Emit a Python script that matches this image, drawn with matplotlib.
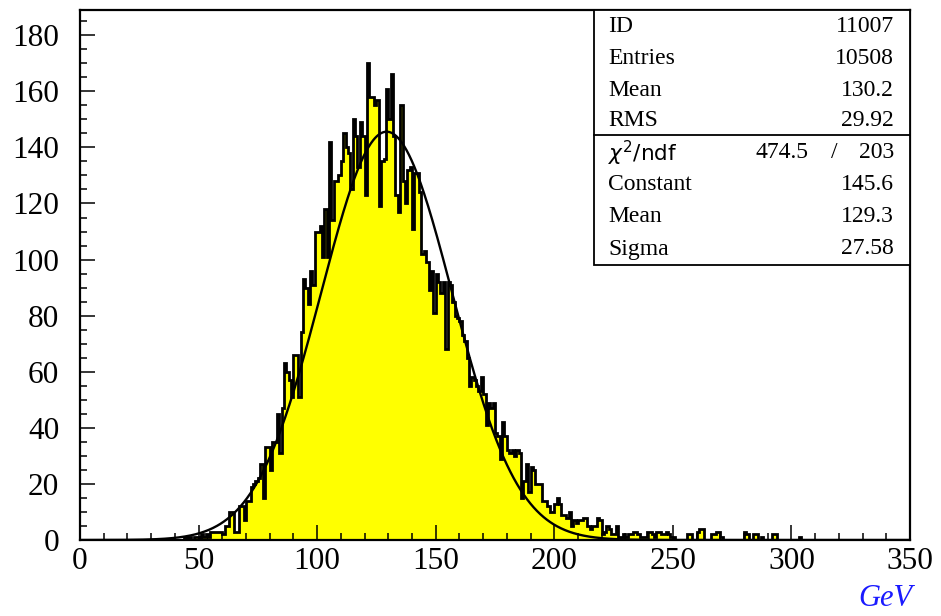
import numpy as np
import matplotlib
matplotlib.use('Agg')
import matplotlib.pyplot as plt
from matplotlib.patches import Rectangle

# bin contents, 1 GeV bins from 0 to 350
counts_low = [0] * 44
counts_44_104 = [1, 0, 1, 0, 1, 1, 0, 2, 1, 2,
                 1, 3, 3, 3, 3, 3, 2, 5, 5, 10,
                 10, 3, 3, 12, 12, 7, 14, 14, 19, 20,
                 21, 22, 27, 15, 33, 33, 25, 35, 35, 45,
                 31, 47, 63, 60, 57, 51, 66, 66, 51, 74,
                 93, 90, 84, 96, 91, 110, 110, 112, 101, 118,
                 101]
counts_105_164 = [142, 114, 128, 128, 130, 135, 145, 140, 138, 125,
                  150, 144, 133, 149, 144, 123, 170, 158, 158, 155,
                  157, 119, 135, 136, 161, 150, 166, 144, 123, 117,
                  155, 128, 120, 132, 133, 111, 131, 131, 124, 102,
                  103, 99, 89, 96, 81, 95, 92, 88, 92, 68,
                  92, 91, 85, 80, 79, 78, 73, 71, 65, 55]
counts_165_234 = [58, 57, 55, 53, 58, 52, 41, 49, 47, 49,
                  38, 37, 29, 42, 37, 32, 31, 32, 30, 32,
                  31, 15, 21, 27, 17, 26, 25, 20, 20, 20,
                  14, 14, 12, 10, 10, 13, 15, 13, 9, 9,
                  8, 10, 5, 7, 6, 7, 7, 8, 8, 5,
                  4, 5, 5, 8, 7, 2, 3, 5, 4, 2,
                  2, 5, 1, 1, 2, 1, 2, 2, 3, 3]
counts_235_304 = [2, 1, 1, 1, 3, 3, 2, 1, 3, 3,
                  2, 2, 3, 2, 1, 1, 0, 0, 0, 0,
                  0, 2, 2, 0, 0, 3, 4, 4, 0, 0,
                  0, 2, 2, 3, 3, 1, 0, 0, 0, 0,
                  0, 0, 0, 0, 0, 3, 2, 0, 0, 2,
                  2, 0, 1, 0, 0, 0, 0, 2, 2, 0,
                  0, 0, 0, 0, 0, 0, 0, 0, 1, 0]
counts_high = [0] * 45

counts = np.array(counts_low + counts_44_104 + counts_105_164 +
                  counts_165_234 + counts_235_304 + counts_high, dtype=float)
edges = np.arange(0, 351)

# fit parameters from the stats box
fit_const = 145.6
fit_mean = 129.3
fit_sigma = 27.58

stat_labels = ['ID', 'Entries', 'Mean', 'RMS']
stat_values = ['11007', '10508', '130.2', '29.92']
fit_labels = ['Constant', 'Mean', 'Sigma']
fit_values = ['145.6', '129.3', '27.58']
chi2_text = '474.5'
ndf_text = '203'

W, H = 941, 616
fig = plt.figure(figsize=(W / 100, H / 100), dpi=100)
ax = fig.add_axes([80 / W, 1 - 540 / H, 830 / W, 530 / H])

ax.stairs(counts, edges, fill=True, color='#ffff00', zorder=1)
ax.stairs(counts, edges, color='black', lw=2.0, zorder=2)

xf = np.linspace(0, 350, 1000)
yf = fit_const * np.exp(-0.5 * ((xf - fit_mean) / fit_sigma) ** 2)
ax.plot(xf, yf, color='black', lw=1.7, zorder=3)

ax.set_xlim(0, 350)
ax.set_ylim(0, 189)
ax.set_xticks(np.arange(0, 351, 50))
ax.set_xticks(np.arange(0, 351, 10), minor=True)
ax.set_yticks(np.arange(0, 181, 20))
ax.set_yticks(np.arange(0, 186, 5), minor=True)
ax.tick_params(which='both', direction='in', width=1.1, top=False, right=False)
ax.tick_params(which='major', length=11)
ax.tick_params(which='minor', length=5)
ax.tick_params(axis='x', pad=5)
ax.tick_params(axis='y', pad=15)
for lab in ax.get_xticklabels() + ax.get_yticklabels():
    lab.set_fontfamily('Liberation Serif')
    lab.set_fontsize(22.5)
for s in ax.spines.values():
    s.set_linewidth(1.6)
    s.set_zorder(5)


def fx(px):
    return px / W


def fy(py):
    return 1 - py / H


# stats box
box = Rectangle((fx(594), fy(265)), fx(910) - fx(594), fy(10) - fy(265),
                transform=fig.transFigure, facecolor='white', edgecolor='black',
                lw=1.3, zorder=10)
fig.patches.append(box)
fig.add_artist(plt.Line2D([fx(594), fx(910)], [fy(135), fy(135)],
                          transform=fig.transFigure, color='black', lw=1.3, zorder=11))

rows_y = [27, 59, 90, 121]
for lab, val, y in zip(stat_labels, stat_values, rows_y):
    fig.text(fx(608), fy(y), lab, ha='left', va='center', fontsize=17,
             family='Liberation Serif', zorder=12)
    fig.text(fx(894), fy(y), val, ha='right', va='center', fontsize=17,
             family='Liberation Serif', zorder=12)

fig.text(fx(608), fy(153), r'$\chi^2$/ndf', ha='left', va='center', fontsize=15.5,
         family='DejaVu Sans', zorder=12)
fig.text(fx(808), fy(153), chi2_text, ha='right', va='center', fontsize=17,
         family='Liberation Serif', zorder=12)
fig.text(fx(834), fy(153), '/', ha='center', va='center', fontsize=17,
         family='Liberation Serif', zorder=12)
fig.text(fx(894), fy(153), ndf_text, ha='right', va='center', fontsize=17,
         family='Liberation Serif', zorder=12)

rows_y2 = [185, 217, 249]
for lab, val, y in zip(fit_labels, fit_values, rows_y2):
    fig.text(fx(608), fy(y), lab, ha='left', va='center', fontsize=17,
             family='Liberation Serif', zorder=12)
    fig.text(fx(894), fy(y), val, ha='right', va='center', fontsize=17,
             family='Liberation Serif', zorder=12)

fig.text(fx(912), fy(598), 'GeV', ha='right', va='center', fontsize=22,
         family='Liberation Serif', style='italic', color='#1a1aff')

fig.savefig('out.png', dpi=100)
